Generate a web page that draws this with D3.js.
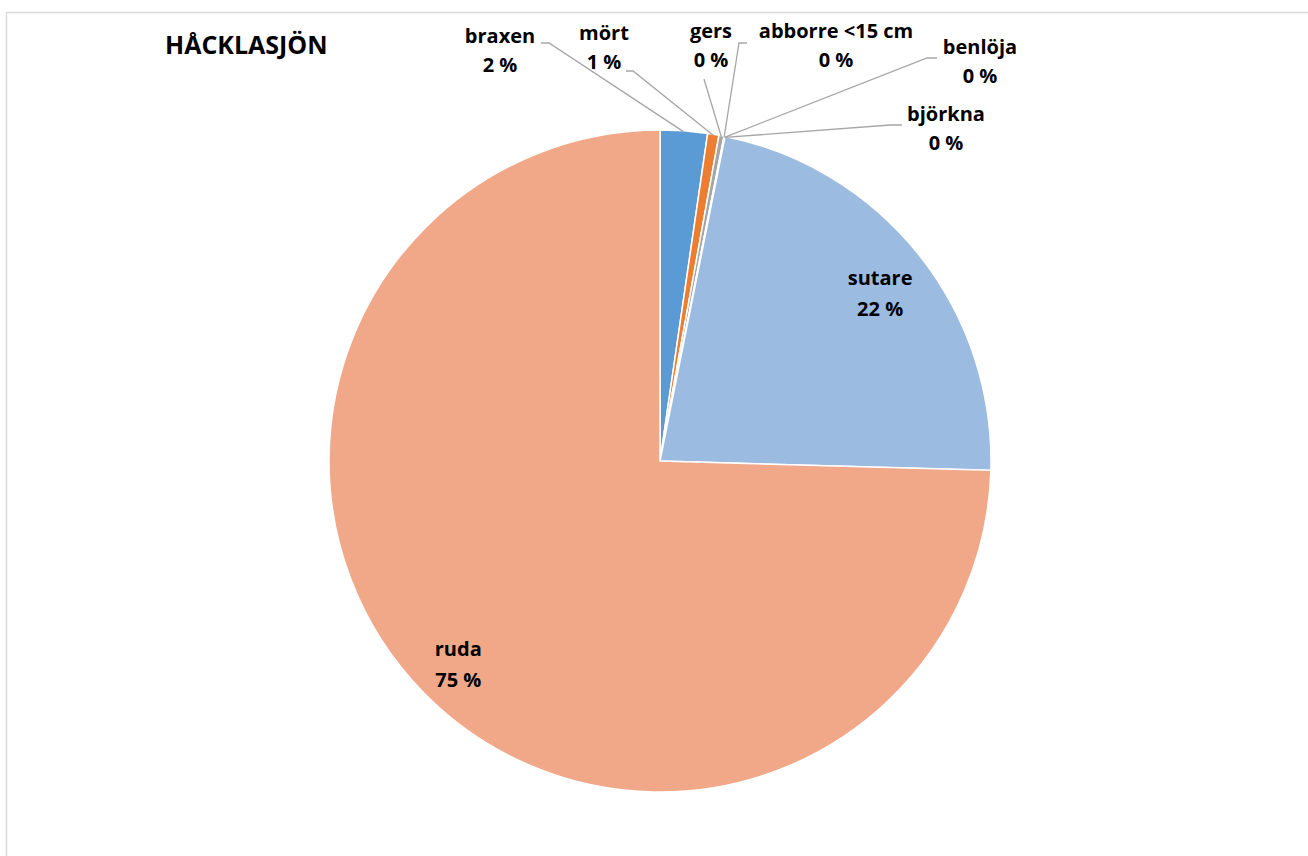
<!DOCTYPE html>
<html>
<head>
<meta charset="utf-8">
<script src="https://cdn.jsdelivr.net/npm/d3@7"></script>
<style>
  body { margin: 0; background: #fff; }
  svg { display: block; font-family: "Open Sans", sans-serif; }
</style>
</head>
<body>
<svg id="chart"></svg>
<script>
// fish species share (percent of catch), clockwise from 12 o'clock
const species = ["braxen", "mört", "gers", "abborre <15 cm", "benlöja", "björkna", "sutare", "ruda"];
const shares = [2.3, 0.55, 0.25, 0.02, 0.02, 0.01, 22.3, 74.55];
const shownPct = ["2 %", "1 %", "0 %", "0 %", "0 %", "0 %", "22 %", "75 %"];
const colors = ["#5b9bd5", "#ed7d31", "#a5a5a5", "#ffc000", "#4472c4", "#70ad47", "#9bbbe0", "#f0a889"];

// where the outside labels sit (text centre x, first line baseline y, leader start, elbow)
const outsideLabels = {
    "braxen":         { x: 500, y: 43,  sx: 541, sy: 43,  ex: 549 },
    "mört":           { x: 604, y: 40,  sx: 626, sy: 71,  ex: 633 },
    "gers":           { x: 711, y: 38,  sx: 704, sy: 79,  ex: 704 },
    "abborre <15 cm": { x: 836, y: 38,  sx: 747, sy: 43,  ex: 739 },
    "benlöja":        { x: 980, y: 54,  sx: 937, sy: 58,  ex: 927 },
    "björkna":        { x: 946, y: 121, sx: 902, sy: 125, ex: 890 }
};

const width = 1308;
const height = 856;
const cx = 660, cy = 461, radius = 331;
const lineGap = 30;

const svg = d3.select("#chart")
    .attr("width", width)
    .attr("height", height);

// chart area border (runs off the right and bottom edge)
svg.append("rect")
    .attr("x", 6.5)
    .attr("y", 12.5)
    .attr("width", width + 20)
    .attr("height", height + 20)
    .attr("fill", "none")
    .attr("stroke", "#d9d9d9")
    .attr("stroke-width", 1.5);

svg.append("text")
    .attr("x", 165)
    .attr("y", 54)
    .attr("font-size", 25)
    .attr("font-weight", 700)
    .attr("fill", "#000")
    .text("HÅCKLASJÖN");

const data = species.map((name, i) => ({ name: name, value: shares[i], pct: shownPct[i], color: colors[i] }));

const pie = d3.pie()
    .sort(null)
    .value(d => d.value);

const arc = d3.arc()
    .innerRadius(0)
    .outerRadius(radius);

const arcs = pie(data);

const g = svg.append("g")
    .attr("transform", `translate(${cx},${cy})`);

g.selectAll("path")
    .data(arcs)
    .join("path")
    .attr("d", arc)
    .attr("fill", d => d.data.color)
    .attr("stroke", "#fff")
    .attr("stroke-width", 1.5);

// leader lines for the small slices
const small = arcs.filter(d => outsideLabels[d.data.name]);

svg.append("g")
    .selectAll("polyline")
    .data(small)
    .join("polyline")
    .attr("fill", "none")
    .attr("stroke", "#a6a6a6")
    .attr("stroke-width", 1.3)
    .attr("points", d => {
        const L = outsideLabels[d.data.name];
        const a = (d.startAngle + d.endAngle) / 2;
        const px = cx + Math.sin(a) * (radius - 1);
        const py = cy - Math.cos(a) * (radius - 1);
        return [[L.sx, L.sy], [L.ex, L.sy], [px, py]].map(p => p.join(",")).join(" ");
    });

// labels outside
const outer = svg.append("g")
    .selectAll("text")
    .data(small)
    .join("text")
    .attr("text-anchor", "middle")
    .attr("font-size", 20)
    .attr("font-weight", 700)
    .attr("fill", "#000");

outer.append("tspan")
    .attr("x", d => outsideLabels[d.data.name].x)
    .attr("y", d => outsideLabels[d.data.name].y)
    .text(d => d.data.name);

outer.append("tspan")
    .attr("x", d => outsideLabels[d.data.name].x)
    .attr("y", d => outsideLabels[d.data.name].y + lineGap - 1)
    .text(d => d.data.pct);

// labels inside the two big slices
const labelArc = d3.arc()
    .innerRadius(radius * 0.85)
    .outerRadius(radius * 0.85);

const inner = g.append("g")
    .selectAll("text")
    .data(arcs.filter(d => !outsideLabels[d.data.name]))
    .join("text")
    .attr("text-anchor", "middle")
    .attr("font-size", 20)
    .attr("font-weight", 700)
    .attr("fill", "#000");

inner.append("tspan")
    .attr("x", d => labelArc.centroid(d)[0])
    .attr("y", d => labelArc.centroid(d)[1] - 1)
    .text(d => d.data.name);

inner.append("tspan")
    .attr("x", d => labelArc.centroid(d)[0])
    .attr("y", d => labelArc.centroid(d)[1] + 30)
    .text(d => d.data.pct);
</script>
</body>
</html>
